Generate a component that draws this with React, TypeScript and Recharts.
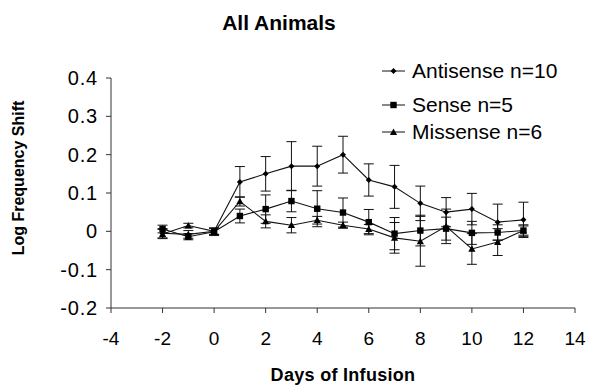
import React from 'react'
import { LineChart, Line, XAxis, YAxis, ErrorBar } from 'recharts'

const days = [-2, -1, 0, 1, 2, 3, 4, 5, 6, 7, 8, 9, 10, 11, 12]
const antisense = [-0.005, -0.008, 0, 0.129, 0.15, 0.17, 0.17, 0.2, 0.134, 0.116, 0.073, 0.05, 0.058, 0.024, 0.03]
const antisenseErr = [0.012, 0.01, 0.008, 0.04, 0.045, 0.064, 0.052, 0.048, 0.042, 0.056, 0.045, 0.038, 0.041, 0.047, 0.046]
const sense = [0.006, -0.014, -0.001, 0.04, 0.058, 0.079, 0.059, 0.049, 0.024, -0.006, 0.002, 0.007, -0.004, -0.003, 0.002]
const senseErr = [0.01, 0.008, 0.01, 0.018, 0.037, 0.028, 0.047, 0.038, 0.033, 0.042, 0.04, 0.03, 0.03, 0.02, 0.015]
const missense = [-0.007, 0.015, 0, 0.078, 0.026, 0.016, 0.029, 0.016, 0.006, -0.017, -0.026, 0.013, -0.046, -0.028, 0.002]
const missenseErr = [0.012, 0.006, 0.008, 0.012, 0.017, 0.02, 0.01, 0.008, 0.012, 0.04, 0.065, 0.045, 0.04, 0.035, 0.012]

const xTicks = [-4, -2, 0, 2, 4, 6, 8, 10, 12, 14]
const yTicks = [-0.2, -0.1, 0, 0.1, 0.2, 0.3, 0.4]

const legendItems = [
  { label: 'Antisense n=10', shape: 'diamond', y: 71 },
  { label: 'Sense n=5', shape: 'square', y: 105 },
  { label: 'Missense n=6', shape: 'triangle', y: 132 },
]

const data = days.map((d, i) => ({
  day: d,
  a: antisense[i],
  aErr: antisenseErr[i],
  s: sense[i],
  sErr: senseErr[i],
  m: missense[i],
  mErr: missenseErr[i],
}))

const FONT = '"Liberation Sans", Arial, sans-serif'

function Marker({ shape, cx, cy }: { shape: string; cx: number; cy: number }) {
  if (shape === 'diamond') {
    const r = 3
    return <polygon points={`${cx},${cy - r} ${cx + r},${cy} ${cx},${cy + r} ${cx - r},${cy}`} fill="#000" />
  }
  if (shape === 'square') {
    const r = 3.2
    return <rect x={cx - r} y={cy - r} width={r * 2} height={r * 2} fill="#000" />
  }
  const r = 3.6
  return <polygon points={`${cx},${cy - r} ${cx + r},${cy + r * 0.8} ${cx - r},${cy + r * 0.8}`} fill="#000" />
}

const dotFor = (shape: string) => (props: any) => (
  <Marker key={`${shape}-${props.index}`} shape={shape} cx={props.cx} cy={props.cy} />
)

const tickStyle = { fontSize: 19, fill: '#000', fontFamily: FONT }

export default function App() {
  return (
    <div style={{ position: 'absolute', left: 0, top: 0, width: 589, height: 385, background: '#fff' }}>
      <LineChart width={589} height={385} data={data} margin={{ top: 78, right: 14, bottom: 0, left: 0 }}>
        <XAxis
          dataKey="day"
          type="number"
          domain={[-4, 14]}
          ticks={xTicks}
          height={77}
          tickSize={5}
          tickMargin={19}
          stroke="#333"
          tick={tickStyle}
        />
        <YAxis
          type="number"
          domain={[-0.2, 0.4]}
          ticks={yTicks}
          width={111}
          tickSize={5}
          tickMargin={8}
          stroke="#333"
          tick={{ ...tickStyle, fontSize: 20, letterSpacing: 0.8 }}
          tickFormatter={(v: number) => (v === 0 ? '0' : v.toFixed(1))}
        />
        <Line dataKey="a" stroke="#111" strokeWidth={1.1} dot={dotFor('diamond')} isAnimationActive={false}>
          <ErrorBar dataKey="aErr" width={5} stroke="#111" strokeWidth={1} direction="y" />
        </Line>
        <Line dataKey="s" stroke="#111" strokeWidth={1.1} dot={dotFor('square')} isAnimationActive={false}>
          <ErrorBar dataKey="sErr" width={5} stroke="#111" strokeWidth={1} direction="y" />
        </Line>
        <Line dataKey="m" stroke="#111" strokeWidth={1.1} dot={dotFor('triangle')} isAnimationActive={false}>
          <ErrorBar dataKey="mErr" width={5} stroke="#111" strokeWidth={1} direction="y" />
        </Line>
      </LineChart>
      <svg
        width={589}
        height={385}
        style={{ position: 'absolute', left: 0, top: 0, pointerEvents: 'none' }}
      >
        <text x={279} y={30} textAnchor="middle" fontFamily={FONT} fontWeight="bold" fontSize={21}>
          All Animals
        </text>
        <text
          x={0}
          y={0}
          transform="translate(24,178) rotate(-90)"
          textAnchor="middle"
          fontFamily={FONT}
          fontWeight="bold"
          fontSize={16}
        >
          Log Frequency Shift
        </text>
        <text
          x={343}
          y={381}
          textAnchor="middle"
          fontFamily={FONT}
          fontWeight="bold"
          fontSize={18}
          letterSpacing={0.3}
        >
          Days of Infusion
        </text>
        {legendItems.map((item) => (
          <g key={item.label}>
            <line x1={382} x2={405} y1={item.y} y2={item.y} stroke="#111" strokeWidth={1} />
            <Marker shape={item.shape} cx={393.5} cy={item.y} />
            <text x={412} y={item.y + 7} fontFamily={FONT} fontSize={21} fill="#000">
              {item.label}
            </text>
          </g>
        ))}
      </svg>
    </div>
  )
}
